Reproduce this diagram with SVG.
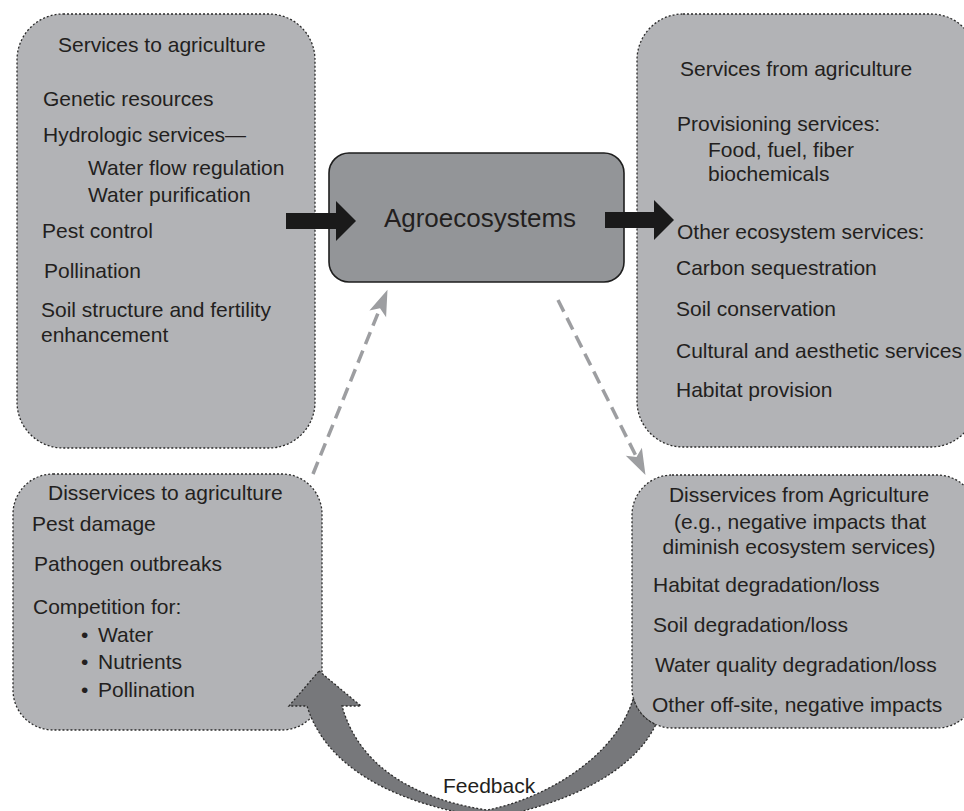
<svg xmlns="http://www.w3.org/2000/svg" width="964" height="811" viewBox="0 0 964 811">
  <style>
    .panel { fill: #b2b3b6; stroke: #2b2b2b; stroke-width: 1.3; stroke-dasharray: 2 2; }
    .core { fill: #939598; stroke: #1e1e1e; stroke-width: 1.6; }
    .t { font-family: "Liberation Sans", Arial, Helvetica, sans-serif; font-size: 21px; fill: #231f20; }
    .c { text-anchor: middle; }
    .big { font-size: 26px; }
    .flow { fill: #1a1a1a; }
    .dash { fill: none; stroke: #9d9ea1; stroke-width: 3.5; stroke-dasharray: 13 7; }
    .loop { fill: #77787b; stroke: #2b2b2b; stroke-width: 1.3; stroke-dasharray: 2 2; }
  </style>
  <defs>
    <marker id="stealth" markerUnits="userSpaceOnUse" viewBox="-12 -11 30 22" refX="0" refY="0" markerWidth="30" markerHeight="22" orient="auto">
      <path d="M16,0 L-10,-9 L-4,0 L-10,9 Z" fill="#9d9ea1"/>
    </marker>
  </defs>

  <!-- Services to agriculture -->
  <g id="services-to-agriculture">
    <rect class="panel" x="17" y="14" width="298" height="434" rx="46" ry="46"/>
    <text class="t" x="58" y="52">Services to agriculture</text>
    <text class="t" x="43" y="106">Genetic resources</text>
    <text class="t" x="43" y="142">Hydrologic services—</text>
    <text class="t" x="88" y="175">Water flow regulation</text>
    <text class="t" x="88" y="202">Water purification</text>
    <text class="t" x="42" y="238">Pest control</text>
    <text class="t" x="44" y="278">Pollination</text>
    <text class="t" x="41" y="317">Soil structure and fertility</text>
    <text class="t" x="41" y="342">enhancement</text>
  </g>

  <!-- Services from agriculture -->
  <g id="services-from-agriculture">
    <rect class="panel" x="637" y="14" width="340" height="433" rx="46" ry="46"/>
    <text class="t" x="680" y="76">Services from agriculture</text>
    <text class="t" x="677" y="131">Provisioning services:</text>
    <text class="t" x="708" y="157">Food, fuel, fiber</text>
    <text class="t" x="708" y="181">biochemicals</text>
    <text class="t" x="677" y="239">Other ecosystem services:</text>
    <text class="t" x="676" y="275">Carbon sequestration</text>
    <text class="t" x="676" y="316">Soil conservation</text>
    <text class="t" x="676" y="358">Cultural and aesthetic services</text>
    <text class="t" x="676" y="397">Habitat provision</text>
  </g>

  <!-- Disservices to agriculture -->
  <g id="disservices-to-agriculture">
    <rect class="panel" x="13" y="474" width="309" height="256" rx="40" ry="40"/>
    <text class="t" x="48" y="500">Disservices to agriculture</text>
    <text class="t" x="32" y="531">Pest damage</text>
    <text class="t" x="34" y="571">Pathogen outbreaks</text>
    <text class="t" x="33" y="614">Competition for:</text>
    <text class="t" y="642"><tspan x="81">•</tspan><tspan x="98">Water</tspan></text>
    <text class="t" y="669"><tspan x="81">•</tspan><tspan x="98">Nutrients</tspan></text>
    <text class="t" y="697"><tspan x="81">•</tspan><tspan x="98">Pollination</tspan></text>
  </g>

  <!-- Disservices from agriculture -->
  <g id="disservices-from-agriculture">
    <rect class="panel" x="632" y="475" width="345" height="253" rx="40" ry="40"/>
    <text class="t c" x="799" y="502">Disservices from Agriculture</text>
    <text class="t c" x="800" y="529">(e.g., negative impacts that</text>
    <text class="t c" x="799" y="554">diminish ecosystem services)</text>
    <text class="t" x="653" y="592">Habitat degradation/loss</text>
    <text class="t" x="653" y="632">Soil degradation/loss</text>
    <text class="t" x="655" y="672">Water quality degradation/loss</text>
    <text class="t" x="652" y="712">Other off-site, negative impacts</text>
  </g>

  <!-- Agroecosystems -->
  <g id="agroecosystems">
    <rect class="core" x="329" y="153" width="295" height="129" rx="20" ry="20"/>
    <text class="t c big" x="480" y="227">Agroecosystems</text>
  </g>

  <!-- Connectors -->
  <g id="connectors">
    <!-- feedback loop: band leaving the lower right panel's corner, round the bottom, up into the lower left panel -->
    <path class="loop" d="M319,671 L361,706 L342,706 C360,770 420,800 487,810 C540,800 615,760 633.3,698 A40,40 0 0 0 655.8,724.6 C632,775 560,806 490,818 C420,808 330,780 307,706 L289,706 Z"/>
    <!-- solid flow arrows into and out of the agroecosystem -->
    <path class="flow" d="M286,213 L336,213 L336,201 L356,221 L336,241 L336,229 L286,229 Z"/>
    <path class="flow" d="M605,212 L654,212 L654,200 L674,220 L654,240 L654,228 L605,228 Z"/>
    <!-- dashed influence arrows -->
    <line class="dash" x1="313" y1="474" x2="381.5" y2="304.5" marker-end="url(#stealth)"/>
    <line class="dash" x1="558" y1="300" x2="638.3" y2="460.6" marker-end="url(#stealth)"/>
  </g>

  <!-- Feedback label -->
  <g id="feedback-label">
    <text class="t" x="443" y="793">Feedback</text>
  </g>
</svg>
